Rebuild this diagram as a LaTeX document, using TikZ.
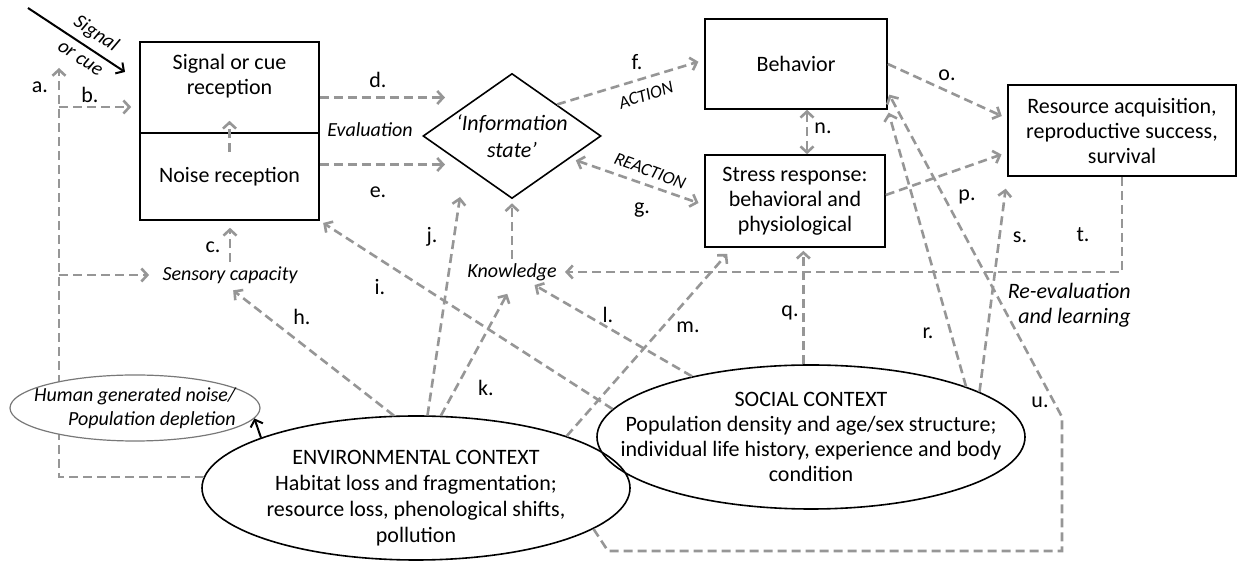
\documentclass[tikz,border=0pt]{standalone}
\usepackage{fontspec}
\setmainfont{Carlito}
\usetikzlibrary{arrows.meta,shapes.geometric}
\definecolor{linkgray}{RGB}{150,150,150}
\definecolor{ovalgray}{RGB}{120,120,120}

\begin{document}
\begin{tikzpicture}[x=0.5pt, y=-0.5pt,
    font=\fontsize{11}{12.5}\selectfont,
    >={Straight Barb[length=3pt,width=6.5pt]},
    box/.style={draw, line width=0.8pt, align=center, inner sep=0pt},
    oval/.style={draw, ellipse, line width=0.8pt, inner sep=0pt},
    link/.style={linkgray, line width=1.3pt, dash pattern=on 4.5pt off 2.5pt},
    solidarrow/.style={black, line width=1pt, ->},
    tag/.style={inner sep=0pt},
    note/.style={font=\fontsize{10}{12}\selectfont\itshape, inner sep=2pt},
    cue/.style={font=\fontsize{10}{12}\selectfont\itshape, rotate=-33.4, inner sep=0pt}]

    \useasboundingbox (0,0) rectangle (1237,565);

    % Boxes
    \node[box, minimum width=89.5pt, minimum height=45.5pt] (sig) at (229.5,87.5) {};
    \node[align=center] (sigtext) at (229.5,76) {Signal or cue\\reception};
    \node[box, minimum width=89.5pt, minimum height=43.5pt] (noise) at (229.5,176.5) {Noise reception};
    \node[draw, diamond, aspect=1.42, line width=0.8pt, inner sep=0pt,
          minimum width=89pt, minimum height=62.5pt, align=center,
          font=\fontsize{11}{13.5}\selectfont\itshape] (info) at (512,136) {`Information\\state'};
    \node[box, minimum width=91pt, minimum height=45pt] (beh) at (796,64) {Behavior};
    \node[box, minimum width=90pt, minimum height=46pt] (stress) at (795,201)
        {Stress response:\\behavioral and\\physiological};
    \node[box, minimum width=114pt, minimum height=45.5pt] (res) at (1122,130.5)
        {Resource acquisition,\\reproductive success,\\survival};

    % Contexts
    \node[oval, minimum width=214pt, minimum height=72pt,
          label={[align=center, yshift=-5pt, font=\fontsize{11}{13}\selectfont]center:ENVIRONMENTAL CONTEXT\\Habitat loss and fragmentation;\\resource loss, phenological shifts,\\pollution}]
          (env) at (416,488) {};
    \node[oval, minimum width=214pt, minimum height=72pt,
          label={[align=center, font=\fontsize{11}{12.5}\selectfont]center:SOCIAL CONTEXT\\Population density and age/sex structure;\\individual life history, experience and body\\condition}]
          (soc) at (811,437) {};

    % Free ends and bends
    \coordinate (sigstart) at (28,8);
    \coordinate (sigtip) at (125,72);
    \coordinate (atip) at (59,68);
    \coordinate (bfork) at (59,107);
    \coordinate (sfork) at (59,275);
    \coordinate (dtip) at (445,97.5);
    \coordinate (etip) at (445,164.5);
    \coordinate (jtip) at (460,197);
    \coordinate (ubend1) at (608,551);
    \coordinate (ubend2) at (1062,551);
    \coordinate (ubend3) at (1062,417);

    % Italic notes
    \node[note] (sens) at (230,275) {Sensory capacity};
    \node[note] (know) at (512,272) {Knowledge};
    \node[note] (eval) at (370,130) {Evaluation};
    \node[note, font=\fontsize{11}{12.5}\selectfont\itshape, align=right, anchor=east] (relearn) at (1135,305) {Re-evaluation\\and learning};
    \node[font=\fontsize{9}{10}\selectfont\itshape, rotate=17.7] (act) at (646,95) {ACTION};
    \node[font=\fontsize{9}{10}\selectfont\itshape, rotate=-20.2] (react) at (650,171) {REACTION};
    \node[cue] (cuetop) at (96,34) {Signal};
    \node[cue] (cuebot) at (80,59) {or cue};

    % Dashed links
    \draw[link,->] (env.177) -| (atip);
    \draw[link,->,shorten >=4pt] (bfork) -- (bfork -| sig.west);
    \draw[link,->,shorten >=4.5pt] (sfork) -- (sens.west);
    \draw[link,->,shorten >=3.5pt] (sens.north) -- (sens.north |- noise.south);
    \draw[link,->] ([yshift=-10pt]noise.north) -- ([yshift=6.5pt]sig.south);
    \draw[link,->] ([yshift=-5pt]sig.east) -- (dtip);
    \draw[link,->] ([yshift=6pt]noise.east) -- (etip);
    \draw[link,->,shorten >=3pt] (info.35) -- ([yshift=2pt]beh.west);
    \draw[link,<->,shorten <=3pt,shorten >=3pt] (info.-21) -- ([yshift=-2pt]stress.west);
    \draw[link,->,shorten >=2pt] (env.107) -- (sens.south);
    \draw[link,->,shorten >=2pt] (soc.172) -- (noise.south east);
    \draw[link,->] (env.81) -- (jtip);
    \draw[link,->,shorten >=5pt] (env.71) -- (know.south);
    \draw[link,->,shorten >=2pt] (know.north) -- (info.south);
    \draw[link,->] (soc.153) -- (know);
    \draw[link,->] (env.19) -- ([xshift=11.5pt,yshift=-3pt]stress.south west);
    \draw[link,<->] ([xshift=5.5pt]beh.south) -- ([xshift=5.5pt]beh.south |- stress.north);
    \draw[link,->,shorten >=3pt] (beh.east) -- ([yshift=6pt]res.west);
    \draw[link,->,shorten >=3pt] ([yshift=3pt]stress.east) -- ([yshift=-11pt]res.west);
    \draw[link,->,shorten >=1.5pt] (soc.96) -- (soc.96 |- stress.south);
    \draw[link,->,shorten >=1.5pt] (soc.18) -- (beh.south east);
    \draw[link,->,shorten >=6pt] (soc.15) -- (res.south west);
    \draw[link,->,shorten >=2pt] (res.south) |- (know.east);
    \draw[link,->,shorten >=1.5pt] (env.-13) -- (ubend1) -- (ubend2) -- (ubend3) -- ([yshift=-14pt]beh.east);

    % Human pressure
    \node[oval, draw=ovalgray, line width=0.6pt, fill=white, minimum width=125pt, minimum height=33pt,
          label={[align=right, font=\fontsize{10}{12}\selectfont\itshape]center:Human generated noise/\\Population depletion}]
          (human) at (135,408) {};
    \draw[solidarrow] (env.162) -- (human.-5);
    \draw[solidarrow] (sigstart) -- (sigtip);

    % Letters
    \node[tag] (la) at (40,87) {a.};
    \node[tag] (lb) at (90,95) {b.};
    \node[tag] (lc) at (213,247) {c.};
    \node[tag] (ld) at (378,80) {d.};
    \node[tag] (le) at (378,192) {e.};
    \node[tag] (lf) at (637,62) {f.};
    \node[tag] (lg) at (642,210) {g.};
    \node[tag] (lh) at (302,317) {h.};
    \node[tag] (li) at (380,287) {i.};
    \node[tag] (lj) at (432,237) {j.};
    \node[tag] (lk) at (486,388) {k.};
    \node[tag] (ll) at (608,315) {l.};
    \node[tag] (lm) at (688,327) {m.};
    \node[tag] (ln) at (823,128) {n.};
    \node[tag] (lo) at (947,75) {o.};
    \node[tag] (lp) at (967,197) {p.};
    \node[tag] (lq) at (790,313) {q.};
    \node[tag] (lr) at (928,333) {r.};
    \node[tag] (ls) at (1020,237) {s.};
    \node[tag] (lt) at (1083,235) {t.};
    \node[tag] (lu) at (1040,402) {u.};

\end{tikzpicture}
\end{document}
